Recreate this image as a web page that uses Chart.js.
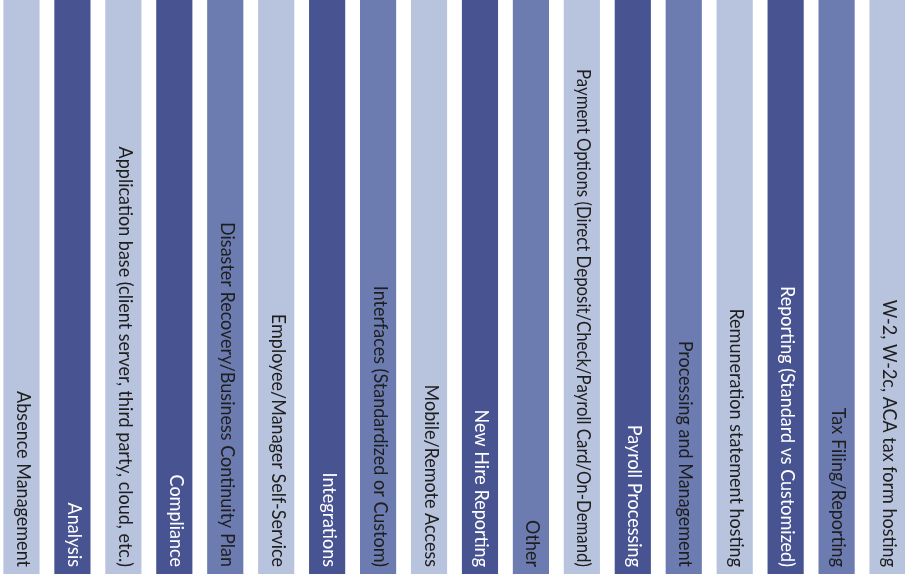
<!DOCTYPE html>
<html>
<head>
<meta charset="utf-8">
<script src="https://cdn.jsdelivr.net/npm/chart.js@4/dist/chart.umd.min.js"></script>
<style>
  html, body { margin: 0; padding: 0; background: #ffffff; overflow: hidden; width: 905px; height: 574px; }
  #wrap { position: absolute; left: -4px; top: 0; width: 917px; height: 574px; }
</style>
</head>
<body>
<div id="wrap"><canvas id="c"></canvas></div>
<script>
const categories = [
  "Absence Management",
  "Analysis",
  "Application base (client server, third party, cloud, etc.)",
  "Compliance",
  "Disaster Recovery/Business Continuity Plan",
  "Employee/Manager Self-Service",
  "Integrations",
  "Interfaces (Standardized or Custom)",
  "Mobile/Remote Access",
  "New Hire Reporting",
  "Other",
  "Payment Options (Direct Deposit/Check/Payroll Card/On-Demand)",
  "Payroll Processing",
  "Processing and Management",
  "Remuneration statement hosting",
  "Reporting (Standard vs Customized)",
  "Tax Filing/Reporting",
  "W-2, W-2c, ACA tax form hosting"
];
const values = [1, 1, 1, 1, 1, 1, 1, 1, 1, 1, 1, 1, 1, 1, 1, 1, 1, 1];
// shade of each bar: L = light, D = dark, M = mid
const shades = ["L","D","L","D","M","L","D","M","L","D","M","L","D","M","L","D","M","L"];

const FILL = { L: "#b8c3de", D: "#485492", M: "#6c7cb1" };
const TEXT = { L: "#1e1e1e", D: "#ffffff", M: "#1e1e1e" };

const labelPlugin = {
  id: "barLabels",
  afterDatasetsDraw(chart) {
    const ctx = chart.ctx;
    const meta = chart.getDatasetMeta(0);
    const bottom = chart.chartArea.bottom;
    const maxLen = bottom - 76;
    meta.data.forEach((bar, i) => {
      ctx.save();
      ctx.translate(bar.x - 4.5, bottom - 7);
      ctx.rotate(Math.PI / 2);
      ctx.scale(1, 1.1);
      ctx.font = "18px Lato";
      ctx.fillStyle = TEXT[shades[i]];
      ctx.textAlign = "right";
      ctx.textBaseline = "alphabetic";
      ctx.fillText(chart.data.labels[i], 0, 0, maxLen);
      ctx.restore();
    });
  }
};

new Chart(document.getElementById("c"), {
  type: "bar",
  data: {
    labels: categories,
    datasets: [{
      data: values,
      backgroundColor: shades.map(s => FILL[s]),
      borderWidth: 0,
      barPercentage: 0.71,
      categoryPercentage: 1.0
    }]
  },
  options: {
    responsive: true,
    maintainAspectRatio: false,
    animation: false,
    layout: { padding: 0 },
    plugins: { legend: { display: false }, tooltip: { enabled: false } },
    scales: {
      x: { display: false },
      y: { display: false, min: 0, max: 1 }
    }
  },
  plugins: [labelPlugin]
});
</script>
</body>
</html>
